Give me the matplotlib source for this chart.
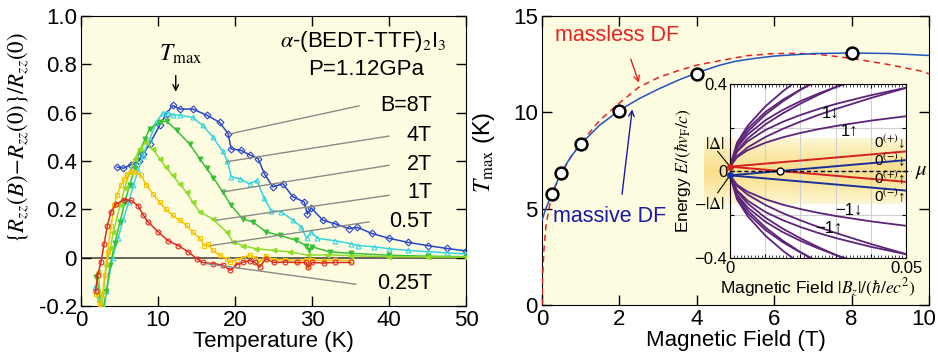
import matplotlib
matplotlib.use('Agg')
import matplotlib.pyplot as plt
import matplotlib.transforms as mtransforms
import numpy as np
from matplotlib.colors import LinearSegmentedColormap
from matplotlib.ticker import MultipleLocator

plt.rcParams['font.family'] = ['Liberation Sans', 'DejaVu Sans']
plt.rcParams['mathtext.fontset'] = 'stix'

# ---- left panel: magnetoresistance vs temperature ----
T_8T = [4.7, 5.5, 6.5, 7.5, 8.1, 8.9, 10.2, 11.1, 11.9, 12.8, 14.5, 16.3, 18.0, 19.1, 19.5,
        20.8, 21.9, 23.0, 23.8, 24.9, 26.2, 27.5, 29.0, 29.4, 29.9, 31.4, 33.0, 34.8, 35.9,
        37.8, 40.0, 42.5, 45.0, 47.5, 50.0]
v_8T = [0.375, 0.37, 0.385, 0.40, 0.43, 0.47, 0.547, 0.596, 0.63, 0.615, 0.615, 0.59, 0.56,
        0.513, 0.45, 0.444, 0.425, 0.41, 0.348, 0.293, 0.306, 0.252, 0.23, 0.18, 0.206, 0.155,
        0.14, 0.12, 0.125, 0.10, 0.08, 0.063, 0.05, 0.038, 0.028]

T_4T = [1.8, 2.3, 2.8, 3.3, 4.1, 4.8, 5.5, 6.2, 6.8, 7.4, 8.0, 8.9, 9.8, 10.6, 11.3, 12.0,
        12.8, 14.5, 15.8, 17.1, 18.4, 19.0, 19.5, 20.6, 21.9, 22.8, 23.8, 24.7, 26.0, 27.5,
        28.6, 29.3, 29.9, 30.7, 33.0, 35.0, 36.0, 38.0, 40.0, 42.5, 45.0, 47.5, 50.0]
v_4T = [-0.12, -0.17, -0.23, -0.14, 0.0, 0.08, 0.16, 0.23, 0.30, 0.36, 0.42, 0.49, 0.56, 0.60,
        0.60, 0.59, 0.59, 0.58, 0.547, 0.50, 0.44, 0.40, 0.335, 0.327, 0.305, 0.32, 0.245,
        0.195, 0.19, 0.155, 0.127, 0.08, 0.107, 0.08, 0.07, 0.058, 0.05, 0.045, 0.037, 0.03,
        0.025, 0.02, 0.015]

T_2T = [2.0, 2.5, 2.9, 3.3, 3.8, 4.4, 5.05, 5.7, 6.3, 7.0, 7.6, 8.3, 8.9, 10.2, 11.1, 12.4,
        14.1, 15.4, 16.3, 17.2, 18.4, 19.5, 21.0, 22.3, 24.0, 25.8, 27.9, 29.2, 29.6, 30.0,
        32.3, 35.0, 40.0, 45.0, 50.0]
v_2T = [-0.08, -0.16, -0.22, -0.14, -0.03, 0.06, 0.148, 0.23, 0.30, 0.37, 0.44, 0.49, 0.534,
        0.56, 0.565, 0.527, 0.47, 0.41, 0.37, 0.33, 0.272, 0.216, 0.16, 0.148, 0.107, 0.092,
        0.072, 0.05, 0.03, 0.045, 0.024, 0.018, 0.01, 0.006, 0.004]

T_1T = [2.2, 2.7, 3.3, 3.8, 4.2, 5.05, 5.7, 6.3, 7.0, 7.6, 8.5, 9.3, 10.2, 11.0, 11.9, 12.8,
        13.7, 14.5, 15.4, 17.1, 18.9, 19.7, 21.0, 22.7, 25.0, 27.1, 29.5, 32.0, 35.0, 40.0,
        45.0, 50.0]
v_1T = [-0.06, -0.21, -0.03, 0.04, 0.107, 0.216, 0.29, 0.355, 0.41, 0.45, 0.478, 0.45, 0.41,
        0.375, 0.34, 0.305, 0.27, 0.23, 0.19, 0.16, 0.107, 0.066, 0.05, 0.037, 0.03, 0.024,
        0.01, 0.012, 0.008, 0.004, 0.003, 0.002]

T_05T = [2.0, 2.4, 2.8, 3.1, 3.45, 3.9, 4.3, 4.7, 5.2, 5.6, 6.0, 6.5, 6.9, 7.8, 8.5, 9.3,
         10.2, 11.0, 11.9, 12.8, 13.7, 14.5, 15.4, 16.0, 16.5, 17.1, 18.0, 18.9, 19.3, 20.2,
         21.0, 21.9, 22.6, 23.2, 24.0, 25.0, 26.5, 28.0, 29.2, 29.5, 30.0, 31.5, 33.0, 35.0]
v_05T = [-0.15, -0.21, -0.15, -0.07, 0.024, 0.13, 0.216, 0.26, 0.30, 0.325, 0.347, 0.355,
         0.355, 0.34, 0.30, 0.265, 0.23, 0.20, 0.175, 0.155, 0.134, 0.105, 0.08, 0.05, 0.055,
         0.03, 0.01, -0.005, -0.02, -0.01, 0.0, 0.01, 0.0, -0.018, 0.008, -0.01, -0.008,
         -0.012, -0.01, -0.035, -0.01, -0.012, -0.01, -0.012]

T_025T = [1.9, 2.15, 2.6, 3.0, 3.4, 3.9, 4.5, 5.6, 6.5, 7.4, 8.1, 8.7, 10.0, 11.3, 12.6, 13.9,
          15.0, 15.8, 17.1, 18.4, 19.4, 20.2, 21.0, 21.9, 22.6, 23.2, 24.0, 25.0, 26.5, 28.0,
          29.2, 29.5, 30.0, 31.5, 33.0, 35.0]
v_025T = [-0.14, -0.073, -0.017, 0.058, 0.13, 0.19, 0.22, 0.24, 0.237, 0.215, 0.175, 0.148,
          0.107, 0.07, 0.05, 0.025, -0.004, -0.02, -0.025, -0.03, -0.053, -0.03, -0.02, -0.012,
          -0.02, -0.039, -0.005, -0.02, -0.018, -0.02, -0.02, -0.04, -0.02, -0.022, -0.02, -0.02]

series = [
    ('B=8T', T_8T, v_8T, '#2846c8', 'D', 'none'),
    ('4T', T_4T, v_4T, '#35d5e0', '^', 'none'),
    ('2T', T_2T, v_2T, '#38c038', 'v', None),
    ('1T', T_1T, v_1T, '#8fdc2a', '<', None),
    ('0.5T', T_05T, v_05T, '#f8c400', 's', 'none'),
    ('0.25T', T_025T, v_025T, '#e02a20', 'o', 'none'),
]
# label text position (right edge), leader line start (on curve) and end
label_pos = [(45.6, 0.63), (45.6, 0.505), (45.6, 0.385), (45.6, 0.27), (45.6, 0.15), (45.6, -0.107)]
leaders = [((19.0, 0.51), (36.1, 0.628)), ((18.9, 0.397), (40.0, 0.503)),
           ((18.4, 0.272), (40.0, 0.382)), ((17.6, 0.155), (40.0, 0.258)),
           ((16.9, 0.05), (37.4, 0.148)), ((16.3, -0.025), (35.7, -0.11))]

# ---- right panel: Tmax vs field ----
B_pts = [0.25, 0.5, 1, 2, 4, 8]
Tmax_pts = [5.76, 6.85, 8.35, 10.08, 12.0, 13.06]
B_massive = [0, 0.1, 0.25, 0.5, 0.75, 1, 1.5, 2, 2.5, 3, 3.5, 4, 4.6, 5, 5.5, 6, 7, 8, 9, 10]
T_massive = [4.4, 5.0, 5.75, 6.9, 7.7, 8.35, 9.35, 10.1, 10.7, 11.2, 11.65, 12.05, 12.45,
             12.65, 12.8, 12.92, 13.05, 13.08, 13.05, 12.95]
B_massless = [0, 0.017, 0.05, 0.1, 0.19, 0.34, 0.51, 0.75, 1.0, 1.5, 2.0, 2.5, 3.0, 3.5, 4.0,
              4.6, 5.3, 6.0, 6.6, 7.2, 8.0, 8.9, 9.8, 10]
T_massless = [0, 1.47, 2.85, 4.06, 5.1, 6.14, 6.85, 7.7, 8.4, 9.6, 10.48, 11.3, 11.8, 12.15,
              12.45, 12.68, 12.94, 13.05, 13.06, 13.0, 12.8, 12.5, 12.14, 12.0]

# ---- inset: Landau levels (positive branch; negative branch is the mirror) ----
B_ll = [0, 0.002, 0.005, 0.01, 0.015, 0.02, 0.025, 0.03, 0.04, 0.05]
E_levels = {
    '1dn': [0.02, 0.0689, 0.1085, 0.1558, 0.1939, 0.227, 0.257, 0.2848, 0.3355, 0.3819],
    '1up': [0.02, 0.0637, 0.0955, 0.1298, 0.1549, 0.175, 0.192, 0.2068, 0.2315, 0.2519],
    '2dn': [0.02, 0.0943, 0.1493, 0.214, 0.2653, 0.3095, 0.3494, 0.386, 0.4525, 0.5127],
    '2up': [0.02, 0.0891, 0.1363, 0.188, 0.2263, 0.2575, 0.2844, 0.308, 0.3485, 0.3827],
    '3dn': [0.02, 0.114, 0.1809, 0.2588, 0.3202, 0.373, 0.4203, 0.4637, 0.5423, 0.6131],
    '3up': [0.02, 0.1088, 0.1679, 0.2328, 0.2812, 0.321, 0.3553, 0.3857, 0.4383, 0.4831],
    '4dn': [0.02, 0.1307, 0.2075, 0.2965, 0.3665, 0.4265, 0.4802, 0.5293, 0.618, 0.6978],
    '4up': [0.02, 0.1255, 0.1945, 0.2705, 0.3275, 0.3745, 0.4152, 0.4513, 0.514, 0.5678],
}
B_zero = [0, 0.05]
E_0p_dn = [0.02, 0.09]
E_0m_dn = [-0.02, 0.05]
E_0p_up = [0.02, -0.05]
E_0m_up = [-0.02, -0.09]
B_cross = 0.0142

bg = '#fefce0'
fig = plt.figure(figsize=(9.38, 3.61), dpi=100)

# ================= left panel =================
axL = fig.add_axes([0.0864, 0.1524, 0.4104, 0.8033])
axL.set_facecolor(bg)
axL.axhline(0, color='#4a4a40', lw=1.2, zorder=1)
for name, T, v, c, m, mfc in series:
    axL.plot(T, v, color=c, lw=1.1, marker=m, ms=3.5, mec=c, mew=0.8,
             mfc=c if mfc is None else mfc, zorder=3)
for (name, *_), (tx, ty), (p0, p1) in zip(series, label_pos, leaders):
    axL.plot([p0[0], p1[0]], [p0[1], p1[1]], color='#8a8a8a', lw=1, zorder=4)
    axL.text(tx, ty, name, ha='right', va='center', fontsize=15.5)
axL.text(47.4, 0.893, r'$\alpha$-(BEDT-TTF)$_2$I$_3$', ha='right', va='center', fontsize=16)
axL.text(44.6, 0.78, 'P=1.12GPa', ha='right', va='center', fontsize=16)
axL.text(13.0, 0.84, r'$T_{\rm max}$', ha='center', va='center', fontsize=17)
axL.annotate('', xy=(12.3, 0.675), xytext=(12.3, 0.765),
             arrowprops=dict(arrowstyle='->', lw=1, color='k'))
axL.set_xlim(0, 50)
axL.set_ylim(-0.2, 1.0)
axL.set_xticks([0, 10, 20, 30, 40, 50])
axL.set_yticks([-0.2, 0, 0.2, 0.4, 0.6, 0.8, 1.0])
axL.set_yticklabels(['-0.2', '0', '0.2', '0.4', '0.6', '0.8', '1.0'])
axL.tick_params(direction='in', length=7, width=1, top=True, right=True, labelsize=16, pad=3)
axL.set_xlabel('Temperature (K)', fontsize=16, labelpad=0)
axL.set_ylabel(r'$\{R_{zz}(B)\!-\!R_{zz}(0)\}/R_{zz}(0)$', fontsize=16.5)
axL.yaxis.set_label_coords(-0.13, 0.58)

# ================= right panel =================
axR = fig.add_axes([0.5778, 0.1551, 0.4126, 0.8006])
axR.set_facecolor(bg)
axR.plot(B_massless, T_massless, color='#e52222', lw=1.1, ls=(0, (4, 3)), zorder=3)
axR.plot(B_massive, T_massive, color='#1f55c0', lw=1.1, zorder=3)
axR.plot(B_pts, Tmax_pts, 'o', ms=8.5, mfc='white', mec='k', mew=1.8, zorder=5)
axR.text(0.34, 14.0, 'massless DF', color='#e52222', fontsize=15.5, va='center')
axR.text(0.29, 4.6, 'massive DF', color='#1a1aa8', fontsize=15.5, va='center')
axR.annotate('', xy=(2.53, 11.4), xytext=(2.27, 12.9),
             arrowprops=dict(arrowstyle='->', lw=1, color='#e52222'))
axR.annotate('', xy=(2.34, 10.3), xytext=(2.06, 5.6),
             arrowprops=dict(arrowstyle='->', lw=1, color='#1a1aa8'))
axR.set_xlim(0, 10)
axR.set_ylim(0, 15)
axR.set_xticks([0, 2, 4, 6, 8, 10])
axR.set_yticks([0, 5, 10, 15])
axR.tick_params(direction='in', length=7, width=1, top=True, right=True, labelsize=16, pad=3)
axR.set_xlabel('Magnetic Field (T)', fontsize=16, labelpad=0)
axR.set_ylabel(r'$T_{\rm max}$ (K)', fontsize=17)
axR.yaxis.set_label_coords(-0.115, 0.53)
# keep the last tick label inside the picture
last = axR.get_xticklabels()[-1]
last.set_transform(last.get_transform() +
                   mtransforms.ScaledTranslation(-5 / 100, 0, fig.dpi_scale_trans))

# ================= inset =================
axI = fig.add_axes([0.7783, 0.2853, 0.1876, 0.482])
axI.set_facecolor('white')
band = LinearSegmentedColormap.from_list('band', ['#fdf6d6', '#fbe9a8', '#f9df8c', '#fbe9a8', '#fdf6d6'])
grad = np.linspace(0, 1, 200).reshape(-1, 1)
im = axI.imshow(grad, extent=[-0.0075, 0.05, -0.15, 0.15], cmap=band, aspect='auto',
                origin='lower', zorder=0)
im.set_clip_on(False)
axI.grid(True, color='#d0d0d0', lw=0.8)
axI.set_axisbelow(True)
for key, E in E_levels.items():
    axI.plot(B_ll, E, color='#5c2479', lw=1.3, zorder=2)
    axI.plot(B_ll, [-e for e in E], color='#5c2479', lw=1.3, zorder=2)
axI.plot(B_zero, E_0p_dn, color='#d42020', lw=1.4, zorder=3)
axI.plot(B_zero, E_0p_up, color='#d42020', lw=1.4, zorder=3)
axI.plot(B_zero, E_0m_dn, color='#1a2f9c', lw=1.4, zorder=3)
axI.plot(B_zero, E_0m_up, color='#1a2f9c', lw=1.4, zorder=3)
axI.plot([0, 0.0515], [0, 0], color='k', lw=1, ls=(0, (3, 2)), zorder=4, clip_on=False)
axI.plot([B_cross], [0], 'o', ms=5, mfc='white', mec='k', mew=1, zorder=5)
axI.plot([0], [0.02], 'o', ms=4, color='#d42020', zorder=6, clip_on=False)
axI.plot([0], [-0.02], 'o', ms=4, color='#1a2f9c', zorder=6, clip_on=False)
axI.plot([-0.0035, 0], [0.09, 0.02], color='k', lw=0.8, clip_on=False)
axI.plot([-0.0035, 0], [-0.1, -0.02], color='k', lw=0.8, clip_on=False)
axI.text(-0.0043, 0.125, r'$|\Delta|$', ha='center', va='center', fontsize=12)
axI.text(-0.0058, -0.152, r'$-|\Delta|$', ha='center', va='center', fontsize=12)
axI.text(0.0525, 0.0, r'$\mu$', ha='left', va='center', fontsize=15)
fam = ['Liberation Sans', 'DejaVu Sans']
axI.text(0.0285, 0.265, '1↓', ha='center', va='center', fontsize=12, family=fam)
axI.text(0.034, 0.18, '1↑', ha='center', va='center', fontsize=12, family=fam)
axI.text(0.0499, 0.135, r'0$^{(+)}$↓', ha='right', va='center', fontsize=11, family=fam)
axI.text(0.0499, 0.052, r'0$^{(-)}$↓', ha='right', va='center', fontsize=11, family=fam)
axI.text(0.0499, -0.033, r'0$^{(+)}$↑', ha='right', va='center', fontsize=11, family=fam)
axI.text(0.0499, -0.115, r'0$^{(-)}$↑', ha='right', va='center', fontsize=11, family=fam)
axI.text(0.0338, -0.18, '−1↓', ha='center', va='center', fontsize=12, family=fam)
axI.text(0.0282, -0.262, '−1↑', ha='center', va='center', fontsize=12, family=fam)
axI.set_xlim(0, 0.05)
axI.set_ylim(-0.4, 0.4)
axI.set_xticks([0, 0.01, 0.02, 0.03, 0.04, 0.05])
axI.set_xticklabels(['0', '', '', '', '', '0.05'])
axI.set_yticks([-0.4, -0.2, 0, 0.2, 0.4])
axI.set_yticklabels(['−0.4', '', '0', '', '0.4'])
axI.xaxis.set_minor_locator(MultipleLocator(0.001))
axI.tick_params(direction='in', length=3, width=0.8, top=True, right=True, labelsize=12, pad=2)
axI.tick_params(which='minor', direction='in', length=2, width=0.5, top=True)
axI.set_xlabel(r'Magnetic Field $|B_z|/(\hbar/ec^2)$', fontsize=12.5, labelpad=1)
axI.set_ylabel(r'Energy $E/(\hbar v_{\rm F}/c)$', fontsize=12.5, labelpad=0)
axI.yaxis.set_label_coords(-0.21, 0.5)

fig.savefig('out.png', dpi=100)
